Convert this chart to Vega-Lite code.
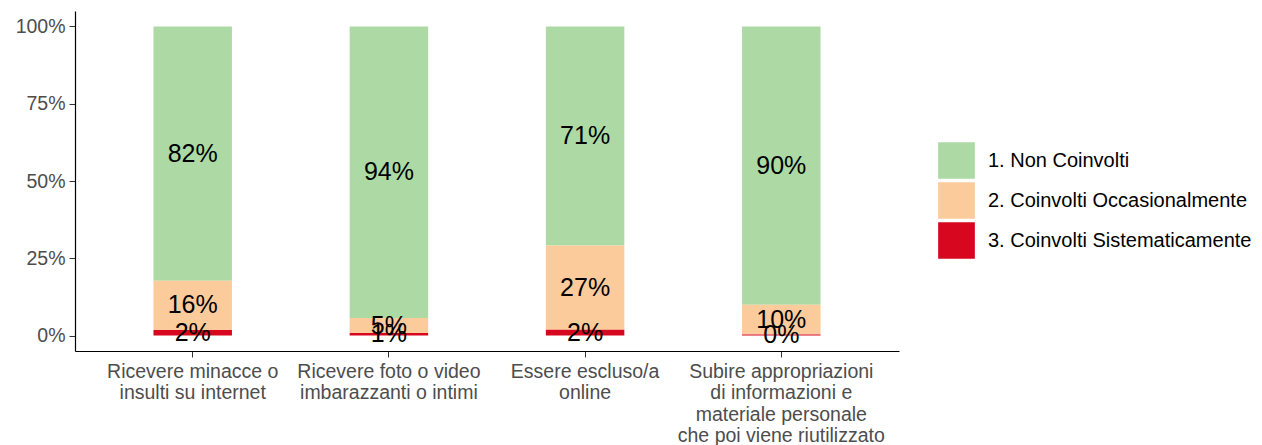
{
  "$schema": "https://vega.github.io/schema/vega-lite/v6.json",
  "width": 824,
  "height": 340,
  "padding": {"left": 15, "top": 11, "right": 5, "bottom": 5},
  "background": "white",
  "data": {
    "values": [
      {"cat": "Ricevere minacce o|insulti su internet", "liv": "1. Non Coinvolti", "k": 1, "v": 0.823},
      {"cat": "Ricevere minacce o|insulti su internet", "liv": "2. Coinvolti Occasionalmente", "k": 2, "v": 0.159},
      {"cat": "Ricevere minacce o|insulti su internet", "liv": "3. Coinvolti Sistematicamente", "k": 3, "v": 0.018},
      {"cat": "Ricevere foto o video|imbarazzanti o intimi", "liv": "1. Non Coinvolti", "k": 1, "v": 0.943},
      {"cat": "Ricevere foto o video|imbarazzanti o intimi", "liv": "2. Coinvolti Occasionalmente", "k": 2, "v": 0.049},
      {"cat": "Ricevere foto o video|imbarazzanti o intimi", "liv": "3. Coinvolti Sistematicamente", "k": 3, "v": 0.008},
      {"cat": "Essere escluso/a|online", "liv": "1. Non Coinvolti", "k": 1, "v": 0.709},
      {"cat": "Essere escluso/a|online", "liv": "2. Coinvolti Occasionalmente", "k": 2, "v": 0.272},
      {"cat": "Essere escluso/a|online", "liv": "3. Coinvolti Sistematicamente", "k": 3, "v": 0.019},
      {"cat": "Subire appropriazioni|di informazioni e|materiale personale|che poi viene riutilizzato", "liv": "1. Non Coinvolti", "k": 1, "v": 0.900},
      {"cat": "Subire appropriazioni|di informazioni e|materiale personale|che poi viene riutilizzato", "liv": "2. Coinvolti Occasionalmente", "k": 2, "v": 0.097},
      {"cat": "Subire appropriazioni|di informazioni e|materiale personale|che poi viene riutilizzato", "liv": "3. Coinvolti Sistematicamente", "k": 3, "v": 0.003}
    ]
  },
  "transform": [
    {"stack": "v", "groupby": ["cat"], "sort": [{"field": "k", "order": "descending"}], "as": ["v0", "v1"]},
    {"calculate": "(datum.v0 + datum.v1) / 2", "as": "mid"}
  ],
  "encoding": {
    "x": {
      "field": "cat",
      "type": "nominal",
      "sort": null,
      "scale": {"paddingInner": 0.6, "paddingOuter": 0.4},
      "axis": {
        "title": null,
        "labelExpr": "split(datum.label, '|')",
        "labelAngle": 0,
        "labelFontSize": 19.5,
        "labelColor": "#4D4D4D",
        "labelLineHeight": 21.5,
        "labelLimit": 400,
        "labelOverlap": false,
        "labelPadding": 5,
        "tickColor": "#333333",
        "tickSize": 6,
        "domainColor": "black",
        "domainWidth": 1.2
      }
    }
  },
  "layer": [
    {
      "mark": {"type": "bar"},
      "encoding": {
        "y": {
          "field": "v0",
          "type": "quantitative",
          "scale": {"domain": [-0.05, 1.05], "nice": false, "zero": false},
          "axis": {
            "title": null,
            "values": [0, 0.25, 0.5, 0.75, 1],
            "format": ".0%",
            "grid": false,
            "labelFontSize": 19.5,
            "labelColor": "#4D4D4D",
            "labelPadding": 4,
            "tickSize": 6,
            "tickColor": "#333333",
            "domainColor": "black",
            "domainWidth": 1.2
          }
        },
        "y2": {"field": "v1"},
        "color": {
          "field": "liv",
          "type": "nominal",
          "scale": {
            "domain": ["1. Non Coinvolti", "2. Coinvolti Occasionalmente", "3. Coinvolti Sistematicamente"],
            "range": ["#ADDAA4", "#FBCB9C", "#D7071F"]
          },
          "legend": {
            "title": null,
            "orient": "none",
            "legendX": 863,
            "legendY": 131,
            "padding": 0,
            "symbolType": "square",
            "symbolSize": 1347,
            "symbolStrokeWidth": 0,
            "symbolOpacity": 1,
            "labelFontSize": 20,
            "labelColor": "black",
            "labelOffset": 13,
            "rowPadding": 3,
            "labelLimit": 400
          }
        }
      }
    },
    {
      "mark": {"type": "text", "fontSize": 25, "color": "black", "baseline": "middle", "align": "center"},
      "encoding": {
        "y": {"field": "mid", "type": "quantitative"},
        "text": {"field": "v", "type": "quantitative", "format": ".0%"}
      }
    }
  ],
  "config": {
    "font": "Liberation Sans",
    "view": {"stroke": null}
  }
}
